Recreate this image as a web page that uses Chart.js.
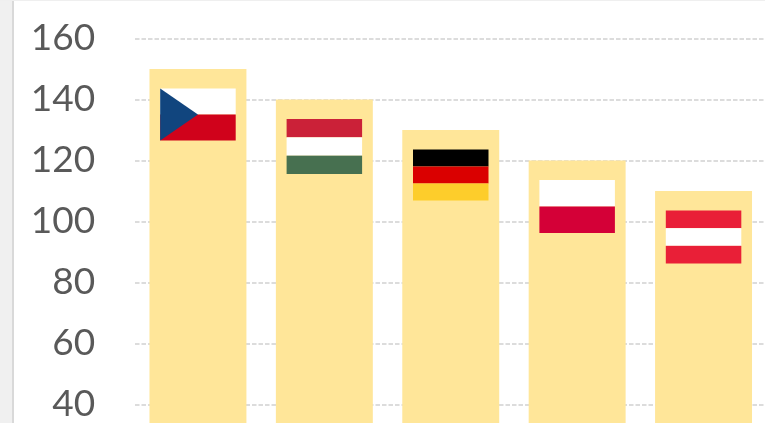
<!DOCTYPE html>
<html>
<head>
<meta charset="utf-8">
<style>
html,body{margin:0;padding:0;width:765px;height:423px;overflow:hidden;background:#fff}
body{background:linear-gradient(to right,#f0f0f0 0,#f0f0f0 12px,#d9d9d9 12px,#d9d9d9 14px,#fff 14px)}
#wrap{position:absolute;left:0;top:0;width:765px;height:423px;overflow:hidden;border-top:1px solid #efefef;box-sizing:border-box}
canvas{position:absolute;left:0;top:-1px}
</style>
<script src="https://cdn.jsdelivr.net/npm/chart.js@4"></script>
</head>
<body>
<div id="wrap"><canvas id="c" width="770" height="557"></canvas></div>
<script>
const categories = ["Czech Republic","Hungary","Germany","Poland","Austria"];
const values = [150,140,130,120,110];
const tickValues = [0,20,40,60,80,100,120,140,160];
const flagStripes = [
  ["#ffffff","#d0021b"],
  ["#cb2138","#ffffff","#477050"],
  ["#000000","#da0000","#fdcd2b"],
  ["#ffffff","#d40037"],
  ["#e91f37","#ffffff","#e91f37"]
];
const flagHeights = [52,55,51,53,53];
const hoistColor = "#11457e";

const flagPlugin = {
  id:"flags",
  afterDatasetsDraw(chart){
    const g = chart.ctx;
    chart.getDatasetMeta(0).data.forEach((bar,i)=>{
      const w = 75.5, h = flagHeights[i];
      const x = bar.x - w/2, y = bar.y + 19.5;
      const stripes = flagStripes[i];
      stripes.forEach((col,k)=>{
        g.fillStyle = col;
        g.fillRect(x, y + h*k/stripes.length, w, h/stripes.length);
      });
      if(i===0){
        g.fillStyle = hoistColor;
        g.beginPath();
        g.moveTo(x,y); g.lineTo(x+w/2,y+h/2); g.lineTo(x,y+h); g.closePath();
        g.fill();
      }
    });
  }
};

new Chart(document.getElementById("c"),{
  type:"bar",
  data:{labels:categories,datasets:[{data:values,backgroundColor:"#ffe699",borderWidth:0,categoryPercentage:1,barPercentage:0.767}]},
  plugins:[flagPlugin],
  options:{
    responsive:false,animation:false,
    layout:{padding:{top:38.5,bottom:30.5,left:0,right:3.25}},
    plugins:{legend:{display:false},tooltip:{enabled:false},title:{display:false}},
    scales:{
      x:{display:false},
      y:{
        min:0,max:160,
        afterBuildTicks(s){s.ticks=tickValues.map(v=>({value:v}));},
        afterFit(s){s.width=134.75;},
        border:{display:false,dash:[4.5,2]},
        grid:{color:"#dcdcdc",lineWidth:2,drawTicks:true,tickLength:39.5,tickColor:"rgba(0,0,0,0)"},
        ticks:{color:"#595959",padding:0,font:{family:"Lato",size:37}}
      }
    }
  }
});
</script>
</body>
</html>
